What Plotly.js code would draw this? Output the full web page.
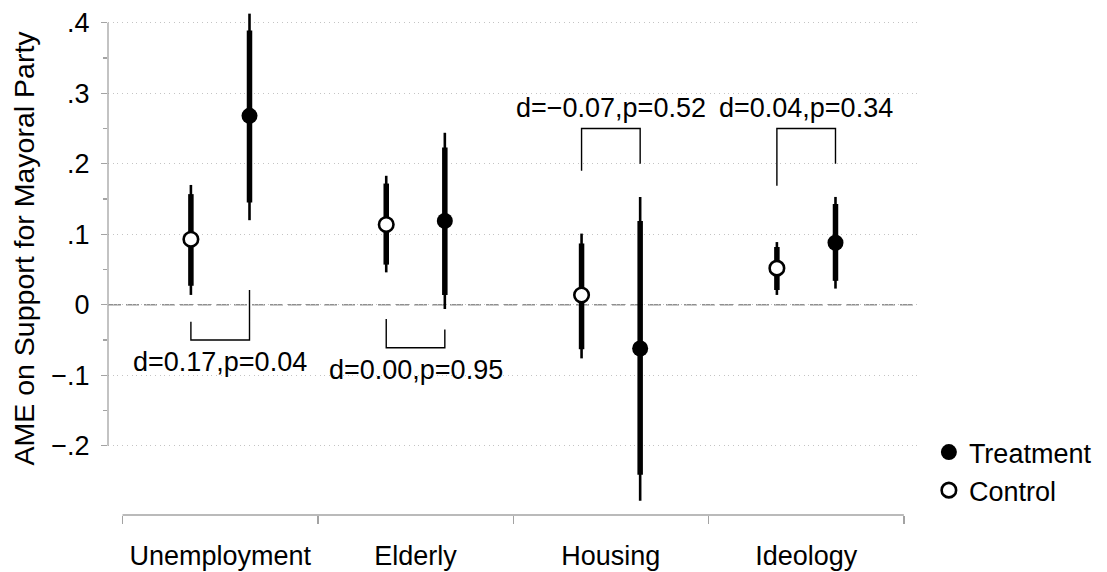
<!DOCTYPE html>
<html>
<head>
<meta charset="utf-8">
<script src="https://cdn.plot.ly/plotly-3.0.1.min.js"></script>
<style>html,body{margin:0;padding:0;background:#fff;}#chart{width:1107px;height:572px;}</style>
</head>
<body>
<div id="chart"></div>
<script>
// ---- Data ----
const categories = ['Unemployment', 'Elderly', 'Housing', 'Ideology'];

const controlEst  = [0.093, 0.114, 0.014, 0.052];
const controlLo90 = [0.027, 0.057, -0.063, 0.021];
const controlHi90 = [0.157, 0.172, 0.087, 0.082];
const controlLo95 = [0.014, 0.046, -0.076, 0.014];
const controlHi95 = [0.170, 0.183, 0.101, 0.089];

const treatEst  = [0.268, 0.119, -0.062, 0.088];
const treatLo90 = [0.145, 0.014, -0.241, 0.034];
const treatHi90 = [0.389, 0.223, 0.119, 0.143];
const treatLo95 = [0.120, -0.006, -0.278, 0.023];
const treatHi95 = [0.413, 0.244, 0.153, 0.153];

const diffLabels      = ['d=0.17,p=0.04', 'd=0.00,p=0.95', 'd=\u22120.07,p=0.52', 'd=0.04,p=0.34'];
const bracketBase     = [-0.050, -0.061, 0.250, 0.250];
const bracketCtrlEnd  = [-0.024, -0.020, 0.190, 0.169];
const bracketTreatEnd = [0.021, -0.035, 0.200, 0.200];

const yTickVals  = [-0.2, -0.1, 0, 0.1, 0.2, 0.3, 0.4];
const yTickText  = ['\u2212.2', '\u2212.1', '0', '.1', '.2', '.3', '.4'];
const yMinorVals = [-0.15, -0.05, 0.05, 0.15, 0.25, 0.35];
const yTitle = 'AME on Support for Mayoral Party';
const legendNames = ['Treatment', 'Control'];

// ---- Build traces ----
const CTRL_OFF = 0.35, TREAT_OFF = 0.65;
const ctrlX  = categories.map((c, i) => i + CTRL_OFF);
const treatX = categories.map((c, i) => i + TREAT_OFF);
const catCenter = categories.map((c, i) => i + 0.5);
const boundaries = categories.map((c, i) => i).concat([categories.length]);

function segments(xs, los, his) {
  const x = [], y = [];
  xs.forEach((v, i) => { x.push(v, v, null); y.push(los[i], his[i], null); });
  return {x, y};
}
const thin = segments(ctrlX.concat(treatX), controlLo95.concat(treatLo95), controlHi95.concat(treatHi95));
const thick = segments(ctrlX.concat(treatX), controlLo90.concat(treatLo90), controlHi90.concat(treatHi90));

const bx = [], by = [];
categories.forEach((c, i) => {
  bx.push(ctrlX[i], ctrlX[i], treatX[i], treatX[i], null);
  by.push(bracketCtrlEnd[i], bracketBase[i], bracketBase[i], bracketTreatEnd[i], null);
});

const traces = [
  {x: thin.x, y: thin.y, mode: 'lines', line: {color: '#000', width: 2.6}, showlegend: false, hoverinfo: 'skip'},
  {x: thick.x, y: thick.y, mode: 'lines', line: {color: '#000', width: 5.5}, showlegend: false, hoverinfo: 'skip'},
  {x: bx, y: by, mode: 'lines', line: {color: '#000', width: 1.4}, showlegend: false, hoverinfo: 'skip'},
  {x: treatX, y: treatEst, mode: 'markers', name: legendNames[0],
   marker: {symbol: 'circle', size: 16, color: '#000', line: {width: 0}}},
  {x: ctrlX, y: controlEst, mode: 'markers', name: legendNames[1],
   marker: {symbol: 'circle', size: 14.5, color: '#fff', line: {color: '#000', width: 2.6}}}
];

// ---- Layout ----
const W = 1107, H = 572;
const mL = 108, mR = 180, mT = 10, mB = 57;
const plotW = W - mL - mR, plotH = H - mT - mB;
const pxPerX = 197.5, pxPerY = 705;
const x0px = 122.7 - mL;          // pixel offset of category boundary 0
const zeroPx = 304.8 - mT;        // pixel offset of y = 0
const xRange = [-x0px / pxPerX, (plotW - x0px) / pxPerX];
const yRange = [-(plotH - zeroPx) / pxPerY, zeroPx / pxPerY];

const axisGray = '#a3a3a3';
const font = {family: '"Liberation Sans", Arial, Helvetica, sans-serif', color: '#000', size: 27};

const annotations = categories.map((c, i) => {
  const above = bracketBase[i] > Math.max(controlHi95[i], treatHi95[i]);
  return {
    xref: 'x', yref: 'y', x: catCenter[i], y: bracketBase[i],
    text: diffLabels[i], showarrow: false, xanchor: 'center',
    yanchor: above ? 'bottom' : 'top', yshift: above ? 4 : -5,
    font: {size: 27}
  };
});
annotations.push({
  xref: 'paper', yref: 'paper', x: (23 - mL) / plotW, y: (H - mB - 247.5) / plotH,
  text: yTitle, textangle: -90, showarrow: false, xanchor: 'center', yanchor: 'middle',
  font: {size: 28.5}
});

const layout = {
  width: W, height: H,
  margin: {l: mL, r: mR, t: mT, b: mB, pad: 0},
  paper_bgcolor: '#fff', plot_bgcolor: '#fff',
  font: font,
  showlegend: true,
  legend: {x: (938 - mL) / plotW, y: (H - mB - 428) / plotH, xanchor: 'left', yanchor: 'top',
           font: {size: 27}, bgcolor: 'rgba(0,0,0,0)', borderwidth: 0, tracegroupgap: 0},
  xaxis: {
    range: xRange, tickmode: 'array', tickvals: catCenter, ticktext: categories,
    ticks: '', showgrid: false, zeroline: false, showline: false,
    ticklabelstandoff: 22, tickfont: {size: 27},
    minor: {tickmode: 'array', tickvals: boundaries, ticks: 'outside', ticklen: 8,
            tickcolor: axisGray, tickwidth: 1.3, showgrid: false}
  },
  yaxis: {
    range: yRange, tickmode: 'array', tickvals: yTickVals, ticktext: yTickText,
    ticks: 'outside', ticklen: 6, tickcolor: axisGray, tickwidth: 1.3,
    showgrid: true, gridcolor: '#c4c4c4', gridwidth: 1, griddash: '1px,3.7px',
    zeroline: false, showline: false, tickfont: {size: 27}, ticklabelstandoff: 6,
    minor: {tickmode: 'array', tickvals: yMinorVals, ticks: 'outside', ticklen: 4,
            tickcolor: axisGray, tickwidth: 1.3, showgrid: false}
  },
  shapes: [
    {type: 'line', xref: 'paper', yref: 'y', x0: 0, x1: 1, y0: 0, y1: 0, layer: 'between',
     line: {color: '#8f8f8f', width: 1.5, dash: '13px,5px'}},
    {type: 'line', xref: 'paper', yref: 'y', x0: 0, x1: 0,
     y0: Math.min(...yTickVals), y1: Math.max(...yTickVals),
     line: {color: axisGray, width: 1.3}},
    {type: 'line', xref: 'x', yref: 'paper', x0: boundaries[0], x1: boundaries[boundaries.length - 1],
     y0: 0, y1: 0, line: {color: axisGray, width: 1.3}}
  ],
  annotations: annotations,
  hovermode: false
};

Plotly.newPlot('chart', traces, layout, {staticPlot: true, displayModeBar: false});
</script>
</body>
</html>
